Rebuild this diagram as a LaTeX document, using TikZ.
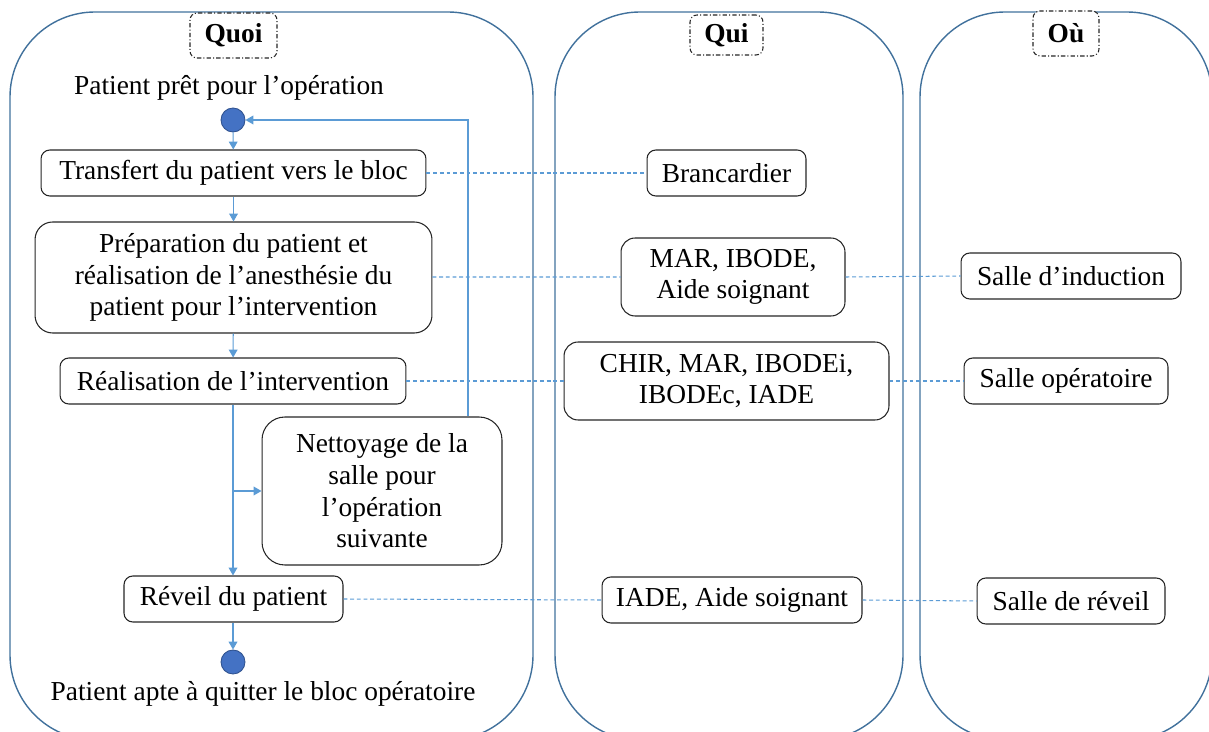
\documentclass[tikz,border=0pt]{standalone}
\usepackage{fontspec}
\setmainfont{Liberation Serif}
\usetikzlibrary{positioning,arrows.meta,calc}
\definecolor{lanecol}{HTML}{41719C}
\definecolor{flowcol}{HTML}{5B9BD5}
\definecolor{dotfill}{HTML}{4472C4}
\definecolor{dotline}{HTML}{2F528F}

\begin{document}
\begin{tikzpicture}[x=0.02cm,y=-0.02cm,
                    every node/.style={font=\fontsize{15.6}{18}\selectfont},
                    lane/.style={draw=lanecol,line width=0.8pt,rounded corners=1.7cm},
                    head node/.style={draw=black!85,line width=0.6pt,dash pattern=on 2.5pt off 1.2pt on 0.6pt off 1.2pt,
                                      rounded corners=4pt,fill=white,
                                      font=\fontsize{15.6}{18}\selectfont\bfseries},
                    task node/.style={draw=black!85,line width=0.6pt,rounded corners=5pt,fill=white,
                                      align=center,inner sep=2pt},
                    state node/.style={circle,fill=dotfill,draw=dotline,line width=0.5pt,
                                       minimum size=0.48cm,inner sep=0pt},
                    flow/.style={draw=flowcol,line width=0.6pt,-{Triangle[length=4.5pt,width=5pt]}},
                    link/.style={draw=flowcol,line width=0.6pt,dash pattern=on 2.2pt off 1.6pt}
                   ]
   \useasboundingbox (0,0) rectangle (1209,732);

   % swimlanes
   \draw[lane] (10,12) rectangle (533,740);
   \draw[lane] (555,12) rectangle (903,740);
   \draw[lane] (920,12) rectangle (1212,740);

   \node[head node,minimum width=1.74cm,minimum height=0.9cm] (quoi) at (233.5,35.5) {Quoi};
   \node[head node,minimum width=1.46cm,minimum height=0.8cm] (qui) at (726.5,35) {Qui};
   \node[head node,minimum width=1.32cm,minimum height=0.9cm] (ou) at (1066,33.5) {Où};

   % Quoi
   \node (debut) at (229,88) {Patient prêt pour l’opération};
   \node[state node] (s1) at (233,120) {};
   \node[task node,minimum width=7.7cm,minimum height=0.92cm] (t1) at (233.5,173) {Transfert du patient vers le bloc};
   \node[task node,minimum width=7.94cm,minimum height=2.22cm,rounded corners=10pt] (t2) at (233.5,277.5)
        {Préparation du patient et\\réalisation de l’anesthésie du\\patient pour l’intervention};
   \node[task node,minimum width=6.92cm,minimum height=0.92cm] (t3) at (233,381) {Réalisation de l’intervention};
   \node[task node,minimum width=4.8cm,minimum height=2.96cm,rounded corners=13pt] (t4) at (382,491)
        {Nettoyage de la\\salle pour\\l’opération\\suivante};
   \node[task node,minimum width=4.38cm,minimum height=0.92cm] (t5) at (233.5,599) {Réveil du patient};
   \node[state node] (s2) at (233,662) {};
   \node (fin) at (263,694) {Patient apte à quitter le bloc opératoire};

   % Qui
   \node[task node,minimum width=3.18cm,minimum height=0.92cm] (q1) at (726.5,173) {Brancardier};
   \node[task node,minimum width=4.48cm,minimum height=1.56cm,rounded corners=8pt] (q2) at (733,277)
        {MAR, IBODE,\\Aide soignant};
   \node[task node,minimum width=6.5cm,minimum height=1.56cm,rounded corners=8pt] (q3) at (726.5,381)
        {CHIR, MAR, IBODEi,\\IBODEc, IADE};
   \node[task node,minimum width=5.2cm,minimum height=0.92cm] (q4) at (732,600) {IADE, Aide soignant};

   % Ou
   \node[task node,minimum width=4.4cm,minimum height=0.92cm] (o1) at (1071,276) {Salle d’induction};
   \node[task node,minimum width=4.08cm,minimum height=0.92cm] (o2) at (1066,381) {Salle opératoire};
   \node[task node,minimum width=3.76cm,minimum height=0.92cm] (o3) at (1071,601) {Salle de réveil};

   % flot
   \coordinate (br) at (t3.south |- t4.west);
   \coordinate (up) at (468,120);
   \path[flow] (s1) -- (t1);
   \path[flow] (t1) -- (t2);
   \path[flow] (t2) -- (t3);
   \path[flow] (t3.south) -- (t5.north -| t3.south);
   \path[flow] (br) -- (t4.west);
   \path[flow] (t4.north -| up) |- (s1.east);
   \path[flow] (t5.south -| s2) -- (s2);

   % liens
   \path[link] (t1.east) -- (q1.west);
   \path[link] (t2.east |- q2.west) -- (q2.west)  (q2.east) -- (o1.west);
   \path[link] (t3.east) -- (q3.west)  (q3.east) -- (o2.west);
   \path[link] (t5.east) -- (q4.west)  (q4.east) -- (o3.west);
\end{tikzpicture}
\end{document}
